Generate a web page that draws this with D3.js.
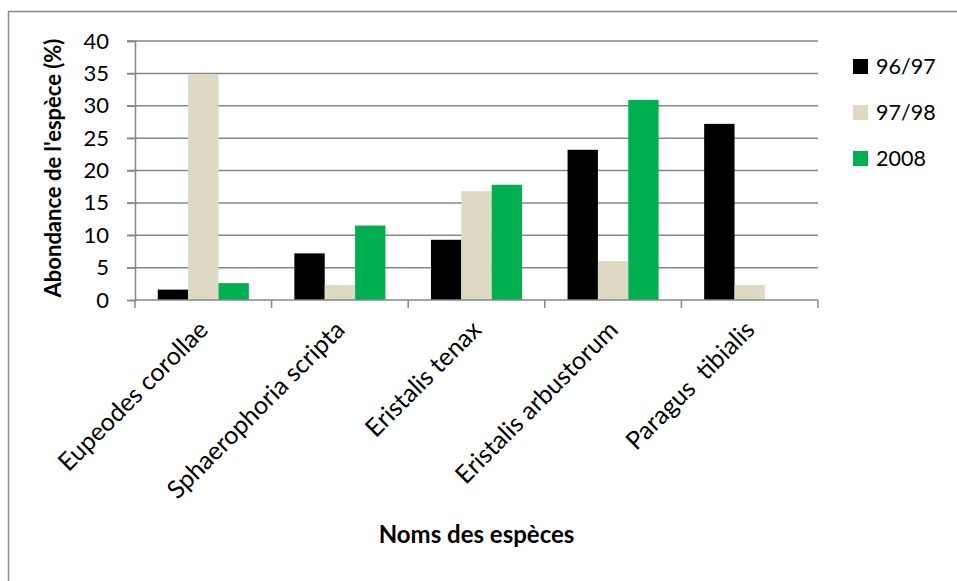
<!DOCTYPE html>
<html><head><meta charset="utf-8">
<script src="https://cdn.jsdelivr.net/npm/d3@7"></script>
<style>body{margin:0;background:#fff}svg{display:block;font-family:Lato,"Open Sans",sans-serif}</style>
</head><body><svg id="c" width="957" height="581"></svg>
<script>
const categories = ["Eupeodes corollae","Sphaerophoria scripta","Eristalis tenax","Eristalis arbustorum","Paragus\u00a0 tibialis"];
const seriesNames = ["96/97","97/98","2008"];
const s9697 = [1.6, 7.2, 9.3, 23.2, 27.2];
const s9798 = [34.9, 2.3, 16.8, 6.0, 2.3];
const s2008 = [2.6, 11.5, 17.8, 30.9, null];
const yTicks = [0,5,10,15,20,25,30,35,40];
const colors = ["#000000","#DDD9C3","#00B050"];

const svg = d3.select("#c");
const m = {l:135, r:818, t:41, b:300};
svg.append("rect").attr("x",8.5).attr("y",11.5).attr("width",980).attr("height",600)
  .attr("fill","none").attr("stroke","#8a8a8a").attr("stroke-width",1.5);

const x = d3.scaleBand().domain(categories).range([m.l,m.r]).paddingInner(0).paddingOuter(0);
const y = d3.scaleLinear().domain([0,40]).range([m.b,m.t]);
const bw = x.bandwidth();
const x1 = d3.scaleBand().domain(seriesNames).range([0,bw]).paddingInner(0).paddingOuter(0.75);

// gridlines
svg.append("g").selectAll("line").data(yTicks.filter(d=>d>0)).join("line")
  .attr("x1",m.l-8).attr("x2",m.r).attr("y1",d=>y(d)).attr("y2",d=>y(d))
  .attr("stroke","#878787").attr("stroke-width",1.5);

// y axis
const ya = svg.append("g").attr("transform",`translate(${m.l},0)`)
  .call(d3.axisLeft(y).tickValues(yTicks).tickSize(8).tickPadding(18));
ya.select(".domain").attr("stroke","#878787").attr("stroke-width",1.5);
ya.selectAll(".tick line").attr("stroke","#878787").attr("stroke-width",1.5);
ya.selectAll("text").attr("font-size",22).attr("fill","#000").attr("font-family","Lato,sans-serif");

// bars
const series = [s9697,s9798,s2008];
seriesNames.forEach((s,i)=>{
  svg.append("g").selectAll("rect").data(categories.map((c,j)=>({c,v:series[i][j]})).filter(d=>d.v!=null)).join("rect")
    .attr("x",d=>x(d.c)+x1(s)).attr("width",x1.bandwidth())
    .attr("y",d=>y(d.v)).attr("height",d=>y(0)-y(d.v)).attr("fill",colors[i]);
});

// x axis
const xa = svg.append("g").attr("transform",`translate(0,${m.b})`);
xa.append("line").attr("x1",m.l).attr("x2",m.r).attr("stroke","#878787").attr("stroke-width",1.5);
const edges = categories.map(c=>x(c)).concat([m.r]);
xa.selectAll("line.t").data(edges).join("line").attr("class","t")
  .attr("x1",d=>d).attr("x2",d=>d).attr("y1",0).attr("y2",8).attr("stroke","#878787").attr("stroke-width",1.5);
xa.selectAll("text").data(categories).join("text")
  .attr("transform",d=>`translate(${x(d)+bw/2-6},${19}) rotate(-45)`)
  .attr("text-anchor","end").attr("dy","0.7em").attr("font-size",25)
  .style("white-space","pre").text(d=>d);

// axis titles
svg.append("text").attr("transform",`translate(61,168) rotate(-90)`)
  .attr("text-anchor","middle").attr("font-size",22).attr("font-weight","bold").text("Abondance de l'espèce (%)");
svg.append("text").attr("x",(m.l+m.r)/2).attr("y",543).attr("text-anchor","middle")
  .attr("font-size",24).attr("font-weight","bold").text("Noms des espèces");

// legend
const lg = svg.append("g");
seriesNames.forEach((s,i)=>{
  const cy = 66 + i*46;
  lg.append("rect").attr("x",853).attr("y",cy-7).attr("width",15).attr("height",15).attr("fill",colors[i]);
  lg.append("text").attr("x",876).attr("y",cy).attr("dy","0.35em").attr("font-size",21.5).text(s);
});
</script></body></html>
